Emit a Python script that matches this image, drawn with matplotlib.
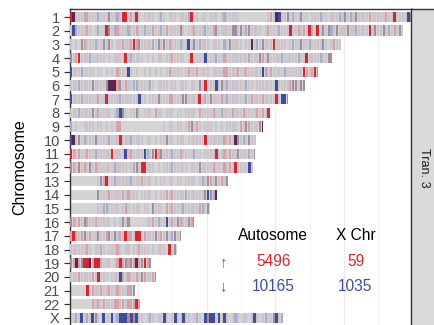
import matplotlib
matplotlib.use("Agg")
import matplotlib.pyplot as plt

plt.rcParams['font.family'] = ['Liberation Sans', 'DejaVu Sans']

# chromosome names and lengths (Mb)
chrom_names = ['1', '2', '3', '4', '5', '6', '7', '8', '9', '10', '11', '12',
               '13', '14', '15', '16', '17', '18', '19', '20', '21', '22', 'X']
chrom_len = [249.3, 243.2, 198.0, 191.2, 180.9, 171.1, 159.1, 146.4, 141.2,
             135.5, 135.0, 133.9, 115.2, 107.3, 102.5, 90.4, 81.2, 78.1,
             59.1, 63.0, 48.1, 51.3, 155.3]

# expression change along each chromosome, one symbol per 2 Mb bin
# '.' no change, ',' ':' faint, 'r' 'b' weak up/down, 'R' 'B' strong up/down,
# 'p' 'P' mixed up and down
chrom_bins = [
    "RP,:,br:,,b,:,p,:b,RR:r,R,.,,:,.,b,.,:,.,:,bR,:.,,.:,,.,b,:,,,.........."
    ":r,PB:,p,b:,p,,.,:,b,,.:,,b,p,b,p,:,,r,,:,,r,,R,,:,Bp",
    ",Bb,:,r,.,b,,Rp,br,:,b,:r,,b,,r:,b,r,:,,p,.,:r,,:b,,rp,,:,,pp,p,bp,:,,.,"
    "r,:,b,,:R,,r:r,Rr,R,p,pb,p,:,p,,b,:,,R,p,:p,b,r,p,",
    ",.,.pr,:,b,:p,p,.,:r,,rRrp,,:,b,p,p,r:,,b,,B,p,b,:,.,:,.b,p,:,,.:,P,b,p,,"
    ":R,,:,.,b,,p:,b,,:,p,.,r:,",
    "p,rR,:,b,:,,,.,.,:,,R,b,:,,.,.,.:,.,:r,:,,.,R,:,,B,:,b,,r,:,,,:,,b,,:pr,p,"
    ",:,b,,:,,b,,R,:,,b,:pp",
    "B,:,b,,:,.,,.,.,.r:,,B,.,..,.:.,.,.,r,,:,.,r,:r,:,,.,:,,rr,:,r,:r,,:,,Bb:"
    "r,,:,b,,:,,,Rr:rRp",
    ",:,b,:,,p,:,,pPPPrp,r,,bb,:,,b,.,:,,.,,.,:,.,,.p,R,:,B,p,b,:,,:,b,,.,:,,,"
    ",,B,,:,rpp,pp",
    "B,:,b,,:,,r,,R,:,,b,:,,,,B,,.,:,p,,,rr,,:pp,,:,R,r,p,:,r,b,:,,,,b,r,:,r,,:"
    ",R,BBp",
    ",:,b,:,,p,r,,:,.,bBp,.,:p,.,:,.r,,.,:,.,,.,:,,.r:,:,r,,b,:,r,:,r,:,,r:r,R",
    "b.,..,,:,.,,.,.,.rr...............,.,,.:,.,rp,r,.,:,.,.,.,,:,.r,pr,,:pP",
    "BP,p,b,:,p,,:,b,,:R,:,b,,:,.,,.,.,:p,,.,:,.,,,:,,R,,:,,,r:r,Pp,b,p,,",
    "Rr:r,:r,,b,,,:,R,:,,B:r,,,:Bb,pRrp,:,b,,r,:,,b,,.,:,,R,,r,r:,p,:,b,p",
    "pr,p:r,p,r:,,:,,b,:,,.,bp,RR,:,.,.,:,b,,:,,.,:,p,:,,r,:,r,r,R,:,,B,",
    "..........,prR,,b,,:,,b,:,r,,:.,.,,.:,.,,.,:,,.,b,pr,p:r,p",
    "..........p,:,r,:,,r,r,:,.,,:,.,.,,r:r,,:,b,,:,,:pBpbP",
    "..........,,bb,:,,.,r,.,:,.,,.p,:,.r,r,:,b,,:,,rb,pr",
    "pr:r,pr,:r,,:,,.,.,p,p......,:r,b,:B,r,pr:,prp",
    "rRr:rp,r,:p,,rp,p,r:Rrr:RR,r,:,p,r,p,bp,p",
    ",:,,:,r,.,,r,.,:,r,.,:.:,r,:,.,.,:,.R,p",
    "prPrpRRPrRRr,:,.,rRrprprPrpRrp",
    ",:,r,:,,r,R,:,.,:,Br,r:,r,pr,:rp",
    "......R,r:,r,:r,,r:,,rbp",
    "........r:r,r:,,rr:r,rrrRr",
    ".,b,B,b,Bp,.B,,B,bBBBpBpB,,.,b,.,,B,.,B,,B,,.,b,.Bp"
    "BB,B,B,.,b,.,,.,B,.,b,,pB,b",
]

# summary counts shown on the panel
count_cols = ['Autosome', 'X Chr']
count_up = [5496, 59]
count_down = [10165, 1035]
facet_label = 'Tran. 3'

bin_mb = 2.0
stripe_frac = 0.75
bar_h = 0.76
gray = '#D4D4D4'
red = '#E0242C'
blue = '#3F4C9F'
bin_colors = {',': '#C9C6D1', ':': '#D6BEC5', 'b': '#A9ACCB', 'r': '#DB9FA8',
              'R': '#D8262E', 'B': '#3E4C9B', 'p': '#A48CA0', 'P': '#5E2452'}

W, H = 435, 325
fig = plt.figure(figsize=(W / 100, H / 100), dpi=100)
ax = fig.add_axes([69.5 / W, 0, (411.5 - 69.5) / W, 1 - 9 / H])

rows = list(range(len(chrom_names)))

# gray chromosome bodies
ax.barh(rows, chrom_len, left=0, height=bar_h, color=gray, zorder=2)

# coloured bins, drawn as thin stripes
for r, (s, L) in enumerate(zip(chrom_bins, chrom_len)):
    lefts, widths, cols = [], [], []
    for i, ch in enumerate(s):
        if ch == '.':
            continue
        x0 = i * bin_mb
        if x0 >= L:
            break
        w = bin_mb * stripe_frac
        if ch in 'RBP':
            w = bin_mb
        lefts.append(x0 + (bin_mb - w) / 2)
        widths.append(min(w, L - x0))
        cols.append(bin_colors[ch])
    ax.barh([r] * len(lefts), widths, left=lefts, height=bar_h,
            color=cols, linewidth=0, zorder=3)

ax.set_xlim(0, 249.3)
ax.set_ylim(22.515, -0.585)
ax.set_xticks([0, 50, 100, 150, 200])
ax.set_xticks([25, 75, 125, 175, 225], minor=True)
ax.grid(axis='x', which='major', color='#EBEBEB', linewidth=1.0, zorder=0)
ax.grid(axis='x', which='minor', color='#F2F2F2', linewidth=0.6, zorder=0)
ax.tick_params(axis='x', which='both', bottom=False, labelbottom=False)

ax.set_yticks(rows)
ax.set_yticklabels(chrom_names)
ax.tick_params(axis='y', length=4, width=0.9, color='#333333',
               labelcolor='#4D4D4D', labelsize=10.5, pad=3)

for side in ['left', 'top', 'right']:
    ax.spines[side].set_color('#333333')
    ax.spines[side].set_linewidth(1.0)
ax.spines['bottom'].set_visible(False)

fig.text(20 / W, 1 - 167.5 / H, 'Chromosome', rotation=90,
         ha='center', va='center', fontsize=11.5, color='black')

# counts table
col_x = [148.5, 208.5]
for x, lab, up, dn in zip(col_x, count_cols, count_up, count_down):
    ax.text(x, 16.0, lab, ha='center', va='center', fontsize=11.2, color='black', zorder=5)
    ax.text(x, 17.9, str(up), ha='center', va='center', fontsize=11.2, color=red, zorder=5)
    ax.text(x, 19.7, str(dn), ha='center', va='center', fontsize=11.2, color=blue, zorder=5)
ax.text(112, 17.9, '\u2191', ha='center', va='center', fontsize=10.5, color=red, zorder=5)
ax.text(112, 19.7, '\u2193', ha='center', va='center', fontsize=10.5, color=blue, zorder=5)

# facet strip on the right
sax = fig.add_axes([411.5 / W, 0, (437 - 411.5) / W, 1 - 9 / H])
sax.set_facecolor('#D9D9D9')
sax.set_xticks([])
sax.set_yticks([])
for side in sax.spines:
    sax.spines[side].set_color('#333333')
    sax.spines[side].set_linewidth(1.0)
sax.spines['bottom'].set_visible(False)
sax.text(0.5, 1 - (167.5 - 9) / (H - 9), facet_label, rotation=270,
         ha='center', va='center', fontsize=9.1, color='#1A1A1A',
         transform=sax.transAxes)

fig.savefig('out.png', dpi=100)
